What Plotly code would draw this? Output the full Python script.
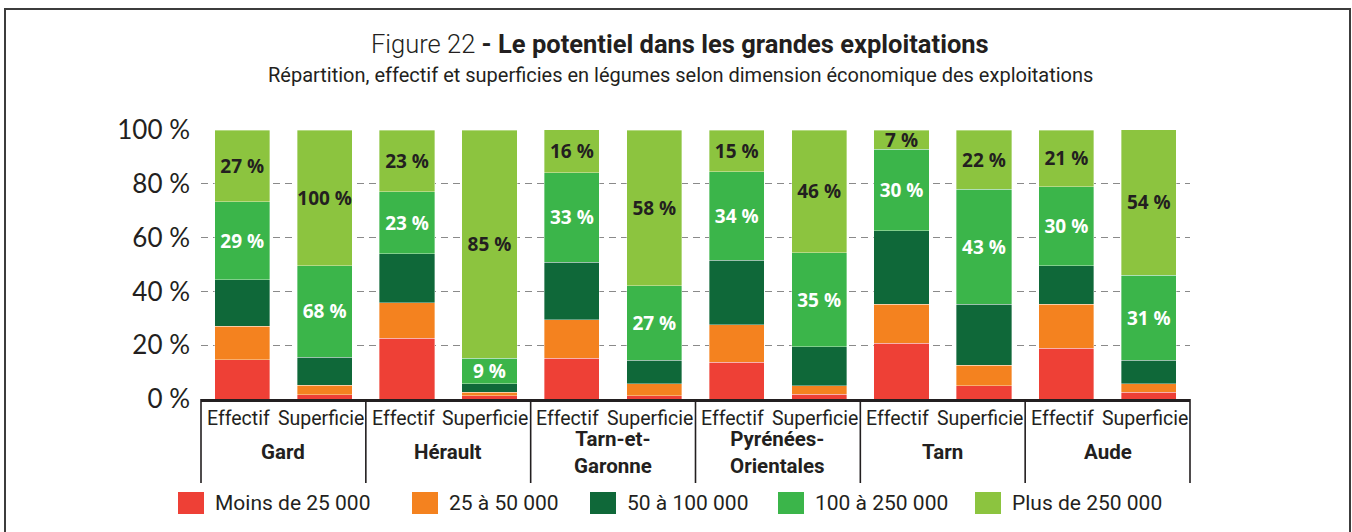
import plotly.graph_objects as go

# ---------------- data ----------------
departements = ["Gard", "Hérault", "Tarn-et-<br>Garonne", "Pyrénées-<br>Orientales", "Tarn", "Aude"]
mesures = ["Effectif", "Superficie"]

series_names = ["Moins de 25 000", "25 à 50 000", "50 à 100 000", "100 à 250 000", "Plus de 250 000"]
series_colors = ["#ee4036", "#f4821f", "#0f6839", "#3bb54a", "#8cc43f"]

# order: Gard Eff, Gard Sup, Hérault Eff, Hérault Sup, TeG Eff, TeG Sup, PO Eff, PO Sup, Tarn Eff, Tarn Sup, Aude Eff, Aude Sup
moins_25 = [14.6, 1.6, 22.5, 1.3, 15.1, 1.2, 13.7, 1.7, 20.8, 5.0, 18.8, 2.5]
de_25_50 = [12.4, 3.5, 13.3, 1.3, 14.4, 4.5, 13.9, 3.3, 14.5, 7.6, 16.5, 3.2]
de_50_100 = [17.3, 10.5, 18.2, 3.0, 21.3, 8.7, 23.9, 14.4, 27.3, 22.7, 14.3, 8.7]
de_100_250 = [29.1, 34.0, 23.1, 9.5, 33.4, 27.7, 33.0, 35.0, 30.2, 42.7, 29.3, 31.6]
plus_250 = [26.6, 50.4, 22.9, 84.9, 15.9, 57.9, 15.5, 45.6, 7.2, 22.0, 21.1, 54.1]

labels_100_250 = ["29 %", "68 %", "23 %", "9 %", "33 %", "27 %", "34 %", "35 %", "30 %", "43 %", "30 %", "31 %"]
labels_plus_250 = ["27 %", "100 %", "23 %", "85 %", "16 %", "58 %", "15 %", "46 %", "7 %", "22 %", "21 %", "54 %"]

y_ticks = [0, 20, 40, 60, 80, 100]
y_ticklabels = ["0 %", "20 %", "40 %", "60 %", "80 %", "100 %"]

title_main = "Figure 22"
title_bold = " - Le potentiel dans les grandes exploitations"
subtitle = "Répartition, effectif et superficies en légumes selon dimension économique des exploitations"

# ---------------- layout geometry ----------------
W, H = 1352, 532
ML, MR, MT, MB = 201, 162, 130, 133
PW, PH = W - ML - MR, H - MT - MB


def px_x(x):
    return (x - ML) / PW


def px_y(y):
    return (H - MB - y) / PH


COND = "Roboto, sans-serif"
DARK = "#231f20"

xcat = [[d for d in departements for _ in mesures], [m for _ in departements for m in mesures]]
n_groups = len(departements)
n_cats = n_groups * len(mesures)

values = [moins_25, de_25_50, de_50_100, de_100_250, plus_250]
texts = [None, None, None, labels_100_250, labels_plus_250]
text_colors = [None, None, None, "white", DARK]

fig = go.Figure()
for name, col, vals, txt, tcol in zip(series_names, series_colors, values, texts, text_colors):
    fig.add_trace(go.Bar(
        name=name, x=xcat, y=vals,
        marker=dict(color=col, line=dict(color="rgba(255,255,255,0.45)", width=0.8)),
        text=txt, texttemplate="%{text}" if txt else None,
        textposition="inside" if txt else "none",
        insidetextanchor="middle", textangle=0,
        textfont=dict(family="Open Sans, Lato, sans-serif", size=19, color=tcol, weight="bold"),
        hoverinfo="skip", showlegend=False,
    ))

fig.update_layout(
    width=W, height=H,
    margin=dict(l=ML, r=MR, t=MT, b=MB, autoexpand=False),
    barmode="stack", bargap=0.33,
    plot_bgcolor="white", paper_bgcolor="white",
    uniformtext=dict(minsize=19, mode="show"),
    font=dict(color=DARK),
)
fig.update_yaxes(
    range=[0, 100], tickvals=y_ticks, ticktext=y_ticklabels,
    showgrid=True, gridcolor="#8a8a8a", gridwidth=1.4, griddash="7px,5px",
    zeroline=False, showline=False, ticks="", ticklabelstandoff=10, automargin=False,
    tickfont=dict(family="Lato, Open Sans, sans-serif", size=26, color=DARK),
)
fig.update_xaxes(
    type="multicategory", showline=True, linecolor=DARK, linewidth=2.5,
    showticklabels=False, showdividers=False, automargin=False, showgrid=False,
)

# category labels (inner level) and group labels (outer level) + dividers
for k in range(n_cats):
    fig.add_annotation(x=(k + 0.5) / n_cats, y=px_y(418), xref="paper", yref="paper",
                       xshift=-4, showarrow=False, text=xcat[1][k],
                       xanchor="center", yanchor="middle",
                       font=dict(family=COND, size=19.5, color=DARK))
for g, dep in enumerate(departements):
    fig.add_annotation(x=(g + 0.5) / n_groups, y=px_y(452), xref="paper", yref="paper",
                       showarrow=False, text=f"<b>{dep.replace('<br>', '</b><br><b>')}</b>",
                       xanchor="center", yanchor="middle",
                       font=dict(family=COND, size=20.5, color=DARK))
for g in range(n_groups + 1):
    fig.add_shape(type="line", xref="paper", yref="paper",
                  x0=g / n_groups, x1=g / n_groups, y0=0, y1=px_y(483),
                  line=dict(color=DARK, width=1.6))

# titles
fig.add_annotation(
    x=px_x(680), y=px_y(44), xref="paper", yref="paper", showarrow=False,
    text=f"<span style='font-weight:300'>{title_main}</span><b>{title_bold}</b>",
    font=dict(family=COND, size=25.5, color=DARK), xanchor="center", yanchor="middle",
)
fig.add_annotation(
    x=px_x(680), y=px_y(75), xref="paper", yref="paper", showarrow=False,
    text=subtitle, font=dict(family=COND, size=20, color=DARK),
    xanchor="center", yanchor="middle",
)

# manual legend
legend_x = [178, 412, 590, 778, 975]
for name, col, lx in zip(series_names, series_colors, legend_x):
    fig.add_shape(type="rect", xref="paper", yref="paper",
                  x0=px_x(lx), x1=px_x(lx + 26), y0=px_y(514), y1=px_y(492),
                  fillcolor=col, line=dict(width=0))
    fig.add_annotation(x=px_x(lx + 35), y=px_y(503), xref="paper", yref="paper",
                       showarrow=False, text=name, xanchor="left", yanchor="middle",
                       font=dict(family=COND, size=21, color=DARK))

# outer frame
fig.add_shape(type="rect", xref="paper", yref="paper",
              x0=px_x(5), x1=px_x(1350), y0=px_y(560), y1=px_y(9),
              line=dict(color="#3c3c3c", width=2), fillcolor="rgba(0,0,0,0)", layer="below")

fig.write_html("out.html", config={"displayModeBar": False},
               post_script="document.body.style.margin='0px';")
